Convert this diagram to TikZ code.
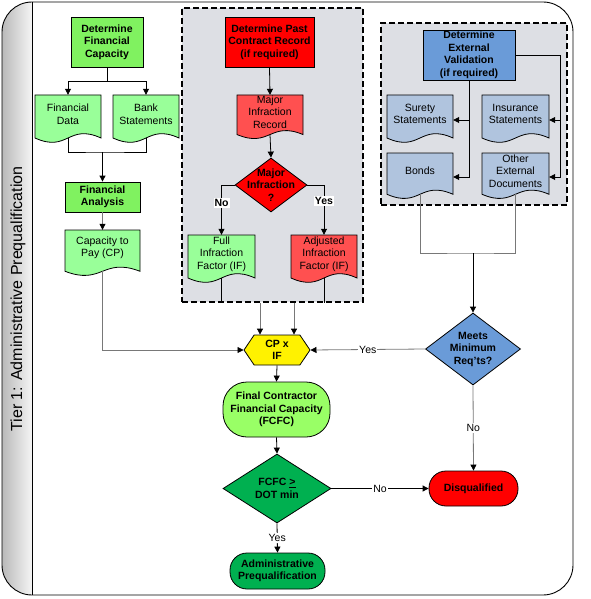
\documentclass[tikz,border=0pt]{standalone}
\usepackage{fontspec}
\setmainfont{Liberation Sans}
\usetikzlibrary{arrows.meta,shapes.geometric,shapes.symbols,calc}

\definecolor{bgreen}{RGB}{128,242,96}
\definecolor{lgreen}{RGB}{153,255,153}
\definecolor{limeg}{RGB}{153,255,102}
\definecolor{dgreen}{RGB}{0,176,80}
\definecolor{lred}{RGB}{255,80,80}
\definecolor{bblue}{RGB}{106,155,216}
\definecolor{lblue}{RGB}{176,196,222}
\definecolor{grpgray}{RGB}{221,223,228}
\definecolor{linegray}{RGB}{120,120,120}

\tikzset{
  txt/.style={font=\fontsize{10.5}{12.5}\selectfont, align=center, inner sep=0pt},
  btxt/.style={font=\fontsize{10.5}{12.5}\selectfont\bfseries, align=center, inner sep=0pt},
  proc/.style={btxt, draw, rectangle, line width=0.8pt},
  docbox/.style={rectangle, inner sep=0pt},
  dec/.style={draw, diamond, inner sep=0pt, line width=0.8pt},
  term/.style={btxt, draw, rectangle, line width=0.8pt},
  grp/.style={draw, fill=grpgray, rectangle, inner sep=0pt, line width=1.3pt, dash pattern=on 6pt off 3pt},
  conn/.style={line width=0.8pt},
  arr/.style={line width=0.8pt, -{Triangle[length=6pt,width=6pt,color=black]}},
  lbl/.style={fill=white, inner sep=1pt, font=\fontsize{10.5}{12}\selectfont},
  blbl/.style={fill=white, inner sep=1pt, font=\fontsize{10.5}{12}\selectfont\bfseries},
}

\newcommand{\docshape}[7]{%
  \filldraw[fill=#6, line width=0.8pt] (#2,#3) -- (#2,#3+0.86*#5)
     .. controls (#2+0.5*#4,#3+1.16*#5) and (#2+0.5*#4,#3+0.56*#5) .. (#2+#4,#3+0.86*#5)
     -- (#2+#4,#3) -- cycle;
  \node[docbox, minimum width=#4, minimum height=#5,
        label={[txt,yshift=6pt]center:{#7}}] (#1) at (#2+0.5*#4,#3+0.5*#5) {};
  \coordinate (#1-b) at (#2+0.5*#4,#3+0.86*#5);
}

\begin{document}
\begin{tikzpicture}[x=1pt,y=-1pt]
\useasboundingbox (0,0) rectangle (590,599);

% outer frame and lane
\begin{scope}
  \clip[rounded corners=30] (2,2) rectangle (573,595);
  \shade[left color=gray!55, right color=gray!8] (2,2) rectangle (32,595);
\end{scope}
\draw[line width=0.9pt, rounded corners=30] (2,2) rectangle (573,595);
\draw[line width=0.9pt] (32,2) -- (32,595);
\node[rotate=90, font=\fontsize{16}{18}\selectfont, inner sep=0pt] (title) at (18,299) {Tier 1: Administrative Prequalification};

% groups
\node[grp, minimum width=181, minimum height=294] (g1) at (272.5,155) {};
\node[grp, minimum width=186, minimum height=182] (g2) at (474,114) {};

% left column
\node[proc, fill=bgreen, minimum width=72, minimum height=50] (dfc) at (107,42) {Determine\\Financial\\Capacity};
\docshape{fd}{35}{95}{66}{50}{lgreen}{Financial\\Data}
\docshape{bs}{113}{95}{66}{50}{lgreen}{Bank\\Statements}
\node[proc, fill=bgreen, minimum width=75, minimum height=30] (fa) at (102.5,197) {Financial\\Analysis};
\docshape{cp}{65}{230}{75}{48}{lgreen}{Capacity to\\Pay (CP)}

% middle group
\node[proc, fill=red, minimum width=89, minimum height=50] (dpc) at (269.5,42) {Determine Past\\Contract Record\\(if required)};
\docshape{mir}{237}{95}{66}{46}{lred}{Major\\Infraction\\Record}
\node[dec, fill=red, minimum width=72, minimum height=54, label={[btxt]center:{Major\\Infraction\\?}}] (mi) at (271,185) {};
\docshape{fif}{188}{235}{67}{50}{lgreen}{Full\\Infraction\\Factor (IF)}
\docshape{aif}{291}{235}{66}{50}{lred}{Adjusted\\Infraction\\Factor (IF)}

% right group
\node[proc, fill=bblue, minimum width=92, minimum height=50] (dev) at (469,55) {Determine\\External\\Validation\\(if required)};
\docshape{ss}{387}{95}{66}{50}{lblue}{Surety\\Statements}
\docshape{is}{482}{95}{67}{50}{lblue}{Insurance\\Statements}
\docshape{bo}{387}{153}{66}{48}{lblue}{Bonds}
\docshape{oed}{482}{153}{67}{48}{lblue}{Other\\External\\Documents}

% lower part
\node[signal, signal to=east and west, signal pointer angle=112, draw, fill=yellow, line width=0.8pt, btxt, minimum width=66, minimum height=30] (cpx) at (277,350) {CP x\\IF};
\node[dec, fill=bblue, minimum width=95, minimum height=72, label={[btxt]center:{Meets\\Minimum\\Req’ts?}}] (meets) at (473,349) {};
\node[term, fill=limeg, rounded corners=24, minimum width=107, minimum height=55] (fcfc) at (276.5,409.5) {Final Contractor\\Financial Capacity\\(FCFC)};
\node[dec, fill=dgreen, minimum width=108, minimum height=69, label={[btxt]center:{FCFC \underline{>}\\DOT min}}] (dmin) at (277,488.5) {};
\node[term, fill=red, rounded corners=17, minimum width=89, minimum height=35] (disq) at (473.5,488.5) {Disqualified};
\node[term, fill=dgreen, rounded corners=17, minimum width=95, minimum height=36] (ap) at (277.5,571) {Administrative\\Prequalification};

% connectors left
\draw[arr] (dfc.south) -- ++(0,14) -| (fd.north);
\draw[arr] (dfc.south) -- ++(0,14) -| (bs.north);
\coordinate (j1) at (102.5,152);
\draw[conn] (fd-b) |- (j1) -| (bs-b);
\draw[arr] (j1) -- (fa.north);
\draw[arr, draw=linegray] (fa.south) -- (cp.north);
\draw[arr, draw=linegray] (cp-b) |- (cpx.west);

% connectors middle
\draw[arr] (dpc.south) -- (mir.north);
\draw[arr] (mir-b) -- (mi.north);
\draw[arr] (mi.west) -| (fif.north) node[pos=0.68, blbl] {No};
\draw[arr] (mi.east) -| (aif.north) node[pos=0.66, blbl] {Yes};
\draw[conn] (fif-b) -- (fif-b |- g1.south);
\draw[conn] (aif-b) -- (aif-b |- g1.south);
\draw[arr, draw=linegray] ([xshift=-12.5pt]g1.south) -- ([xshift=-12.5pt]g1.south |- cpx.north);
\draw[arr, draw=linegray] ([xshift=21.5pt]g1.south) -- ([xshift=21.5pt]g1.south |- cpx.north);

% connectors right
\draw[arr] (dev.south) |- (ss.east);
\draw[arr] (dev.south) |- (bo.east);
\draw[arr] (dev.east) -- ++(45,0) |- (is.east);
\draw[arr] (dev.east) -- ++(45,0) |- (oed.east);
\coordinate (j2) at (473,253);
\draw[conn, draw=linegray] (bo-b) |- (j2) -| (oed-b);
\draw[arr] (j2) -- (meets.north);
\draw[arr, draw=linegray] (meets.west) -- (cpx.east) node[midway, lbl] {Yes};
\draw[arr, draw=linegray] (meets.south) -- (disq.north) node[midway, lbl] {No};

% connectors bottom
\draw[arr] (cpx.south) -- (fcfc.north);
\draw[arr] (fcfc.south) -- (dmin.north);
\draw[arr] (dmin.east) -- (disq.west) node[midway, lbl] {No};
\draw[arr] (dmin.south) -- (ap.north) node[midway, lbl] {Yes};
\end{tikzpicture}
\end{document}
